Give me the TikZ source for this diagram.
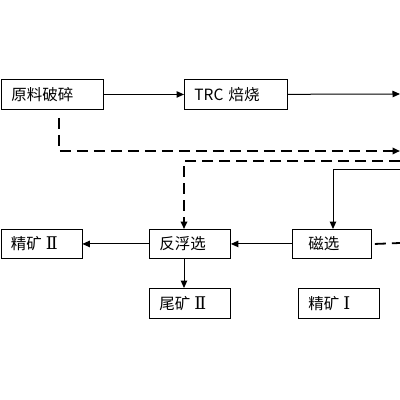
\documentclass[tikz,border=0pt]{standalone}
\usepackage{fontspec}
\setmainfont{Noto Sans CJK SC}
\newfontfamily\romfont{DejaVu Serif}
\usetikzlibrary{arrows.meta,calc}
\newcommand{\romnum}[1]{{\romfont\fontsize{17.5}{16}\selectfont #1}}
\begin{document}
\begin{tikzpicture}[x=1pt,y=-1pt,
  box/.style={draw, line width=0.9pt, minimum height=30pt, inner xsep=10pt, inner ysep=0pt,
    text width=#1, align=left, anchor=north west, font=\fontsize{15.5}{16}\selectfont},
  conn/.style={line width=1pt, -{Triangle[length=7.5pt,width=6.5pt]}},
  dconn/.style={line width=1.8pt, dash pattern=on 11pt off 6pt, -{Triangle[length=7.5pt,width=6.5pt]}},
  dline/.style={line width=1.8pt, dash pattern=on 11pt off 6pt}]
\useasboundingbox (0,0) rectangle (400,400);
\fill[white] (0,0) rectangle (400,400);
\node[box=82pt] (A) at (1,79) {原料破碎};
\node[box=83pt] (B) at (184,79) {TRC 焙烧};
\node[box=61pt, minimum height=29pt] (C) at (0.5,229) {精矿\hspace{4pt}\romnum{Ⅱ}};
\node[box=61pt, minimum height=29pt] (D) at (149,229) {反浮选};
\node[box=59pt, minimum height=29pt] (E) at (292,229) {\hspace*{6pt}磁选};
\node[box=61pt] (F) at (149,288) {尾矿\hspace{4pt}\romnum{Ⅱ}};
\node[box=61pt] (G) at (298,288) {精矿\hspace{4pt}\romnum{Ⅰ}};
\coordinate (R1) at (400,94);
\coordinate (R2) at (400,151);
\coordinate (R3) at (400,161);
\coordinate (R4) at (400,169);
\coordinate (R5) at (400,243);
\coordinate (P1) at ($(A.south west)+(58,8)$);
\coordinate (P2) at ($(D.north west)+(35,0)$);
\coordinate (P3) at ($(D.south west)+(35,0)$);
\coordinate (P4) at ($(E.north west)+(41,0)$);
\draw[conn] (A) -- (B);
\draw[conn] (B) -- (R1);
\draw[dconn] (P1) |- (R2);
\draw[dconn] (R3) -| (P2);
\draw[conn] (R4) -| (P4);
\draw[conn] (E) -- (D);
\draw[conn] (D) -- (C);
\draw[conn] (P3) -- (P3 |- F.north);
\draw[dline] ($(E.east)+(3,0)$) -- (R5);
\end{tikzpicture}
\end{document}
